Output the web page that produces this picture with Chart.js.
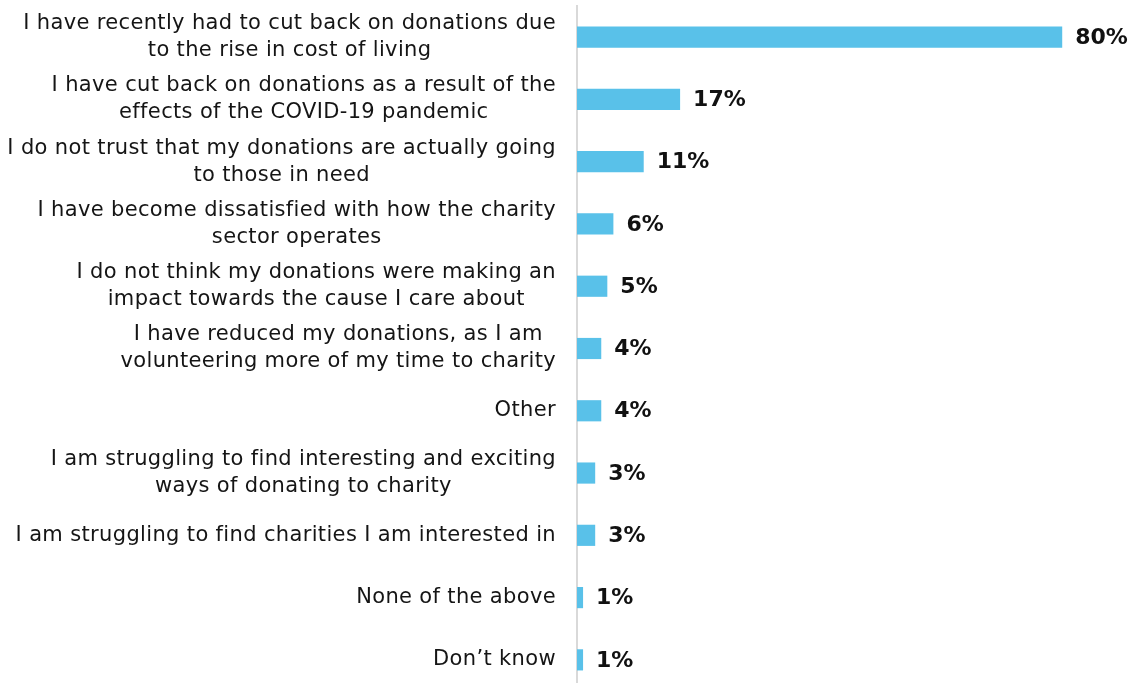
<!DOCTYPE html>
<html>
<head>
<meta charset="utf-8">
<script src="https://cdn.jsdelivr.net/npm/chart.js@4.4.1/dist/chart.umd.min.js"></script>
<style>
  html, body { margin: 0; padding: 0; background: #fff; overflow: hidden; }
  #wrap { width: 1135px; height: 700px; }
</style>
</head>
<body>
<div id="wrap"><canvas id="chart"></canvas></div>
<script>
/* ---------- data ---------- */
const reasons = [
  ["I have recently had to cut back on donations due", "to the rise in cost of living"],
  ["I have cut back on donations as a result of the", "effects of the COVID-19 pandemic"],
  ["I do not trust that my donations are actually going", "to those in need"],
  ["I have become dissatisfied with how the charity", "sector operates"],
  ["I do not think my donations were making an", "impact towards the cause I care about"],
  ["I have reduced my donations, as I am", "volunteering more of my time to charity"],
  ["Other"],
  ["I am struggling to find interesting and exciting", "ways of donating to charity"],
  ["I am struggling to find charities I am interested in"],
  ["None of the above"],
  ["Don\u2019t know"]
];
const shares = [80, 17, 11, 6, 5, 4, 4, 3, 3, 1, 1];

const LABEL_FONT = "21px 'DejaVu Sans'";
const VALUE_FONT = "bold 22px 'DejaVu Sans'";

/* category labels: block right-aligned, lines centred within it */
const reasonLabels = {
  id: "reasonLabels",
  afterDraw(chart) {
    const { ctx } = chart;
    const y = chart.scales.y;
    const right = y.right - 21;
    const lineH = 27;
    ctx.save();
    ctx.font = LABEL_FONT;
    ctx.letterSpacing = "0.35px";
    ctx.fillStyle = "#151515";
    ctx.textAlign = "center";
    ctx.textBaseline = "middle";
    reasons.forEach((lines, i) => {
      const cy = y.getPixelForValue(i);
      const w = Math.max(...lines.map(l => ctx.measureText(l).width));
      const cx = right - w / 2;
      const top = cy - (lines.length - 1) * lineH / 2;
      lines.forEach((l, j) => ctx.fillText(l, cx, top + j * lineH));
    });
    ctx.restore();
  }
};

/* percentage labels at the end of each bar */
const valueLabels = {
  id: "valueLabels",
  afterDatasetsDraw(chart) {
    const { ctx } = chart;
    const meta = chart.getDatasetMeta(0);
    ctx.save();
    ctx.font = VALUE_FONT;
    ctx.fillStyle = "#111";
    ctx.textAlign = "left";
    ctx.textBaseline = "middle";
    meta.data.forEach((bar, i) => {
      ctx.fillText(shares[i] + "%", bar.x + 13, bar.y + 1);
    });
    ctx.restore();
  }
};

new Chart(document.getElementById("chart"), {
  type: "bar",
  data: {
    labels: reasons,
    datasets: [{
      data: shares,
      backgroundColor: "#59c1e9",
      borderWidth: 0,
      barPercentage: 0.34,
      categoryPercentage: 1
    }]
  },
  options: {
    indexAxis: "y",
    responsive: true,
    maintainAspectRatio: false,
    animation: false,
    layout: { padding: { top: 6, bottom: 9, left: 0, right: 0 } },
    plugins: { legend: { display: false }, tooltip: { enabled: false } },
    scales: {
      x: { display: false, min: 0, max: 92 },
      y: {
        afterFit(scale) { scale.width = 577; },
        grid: { display: false, drawTicks: false },
        border: { display: true, color: "#d9d9d9", width: 2 },
        ticks: { display: false }
      }
    }
  },
  plugins: [reasonLabels, valueLabels]
});
</script>
</body>
</html>
